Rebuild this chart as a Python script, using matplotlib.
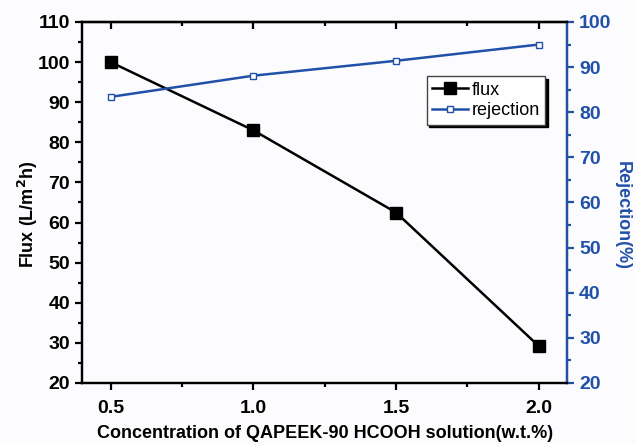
import matplotlib
matplotlib.use("Agg")
import matplotlib.pyplot as plt
from matplotlib.ticker import MultipleLocator

# datos
concentracion = [0.5, 1.0, 1.5, 2.0]
flux = [100.0, 83.0, 62.5, 29.2]
rechazo = [83.4, 88.1, 91.4, 95.0]

azul = '#2150a8'
plt.rcParams['font.family'] = ['Liberation Sans', 'DejaVu Sans']

fig = plt.figure(figsize=(6.36, 4.44), dpi=100, facecolor='#fcfcfe')
ax = fig.add_axes([0.129, 0.1374, 0.763, 0.8131])
ax.set_facecolor('#fcfcfe')
ax2 = ax.twinx()

l1, = ax.plot(concentracion, flux, color='black', lw=1.8, marker='s',
              markersize=8, markerfacecolor='black', label='flux')
l2, = ax2.plot(concentracion, rechazo, color=azul, lw=1.8, marker='s',
               markersize=5, markerfacecolor='white', markeredgecolor=azul,
               markeredgewidth=1, label='rejection')

ax.set_xlim(0.4, 2.1)
ax.set_ylim(20, 110)
ax2.set_ylim(20, 100)

ax.xaxis.set_major_locator(MultipleLocator(0.5))
ax.xaxis.set_minor_locator(MultipleLocator(0.25))
ax.yaxis.set_major_locator(MultipleLocator(10))
ax.yaxis.set_minor_locator(MultipleLocator(5))
ax2.yaxis.set_major_locator(MultipleLocator(10))
ax2.yaxis.set_minor_locator(MultipleLocator(5))

for s in ax.spines.values():
    s.set_linewidth(1.6)
for s in ax2.spines.values():
    s.set_linewidth(1.6)
ax2.spines['right'].set_color(azul)

ax.tick_params(axis='both', which='major', direction='out', length=5, width=1.6,
               labelsize=14)
ax.tick_params(axis='x', which='major', pad=7)
ax.tick_params(axis='both', which='minor', direction='out', length=3, width=1.6)
ax2.tick_params(axis='y', which='major', direction='out', length=5, width=1.6,
                labelsize=14, colors=azul)
ax2.tick_params(axis='y', which='minor', direction='out', length=3, width=1.6,
                colors=azul)
for t in ax.get_xticklabels() + ax.get_yticklabels() + ax2.get_yticklabels():
    t.set_fontweight('bold')

# marcas arriba hacia adentro
sec = ax.secondary_xaxis('top')
sec.xaxis.set_major_locator(MultipleLocator(0.5))
sec.xaxis.set_minor_locator(MultipleLocator(0.25))
sec.tick_params(which='major', direction='in', length=5, width=1.6, labeltop=False)
sec.tick_params(which='minor', direction='in', length=3, width=1.6)
sec.spines['top'].set_linewidth(1.6)

ax.set_xlabel('Concentration of QAPEEK-90 HCOOH solution(w.t.%)',
              fontsize=13, fontweight='bold', labelpad=6)
ax.set_ylabel('Flux (L/m$^\\mathbf{2}$h)', fontsize=13, fontweight='bold')
ax.yaxis.set_label_coords(-0.087, 0.468)
ax2.set_ylabel('Rejection(%)', fontsize=13, fontweight='bold', color=azul,
               rotation=-90)
ax2.yaxis.set_label_coords(1.13, 0.465)

leg = ax2.legend(handles=[l1, l2], loc='upper right',
                 bbox_to_anchor=(0.955, 0.85), fontsize=13, frameon=True,
                 fancybox=False, shadow={'color': 'black', 'alpha': 1},
                 handlelength=2.0, handletextpad=0.2, borderpad=0.3,
                 labelspacing=0.2, borderaxespad=0)
leg.get_frame().set_edgecolor('#444444')
leg.get_frame().set_linewidth(1.0)

fig.savefig('out.png', dpi=100, facecolor=fig.get_facecolor())
